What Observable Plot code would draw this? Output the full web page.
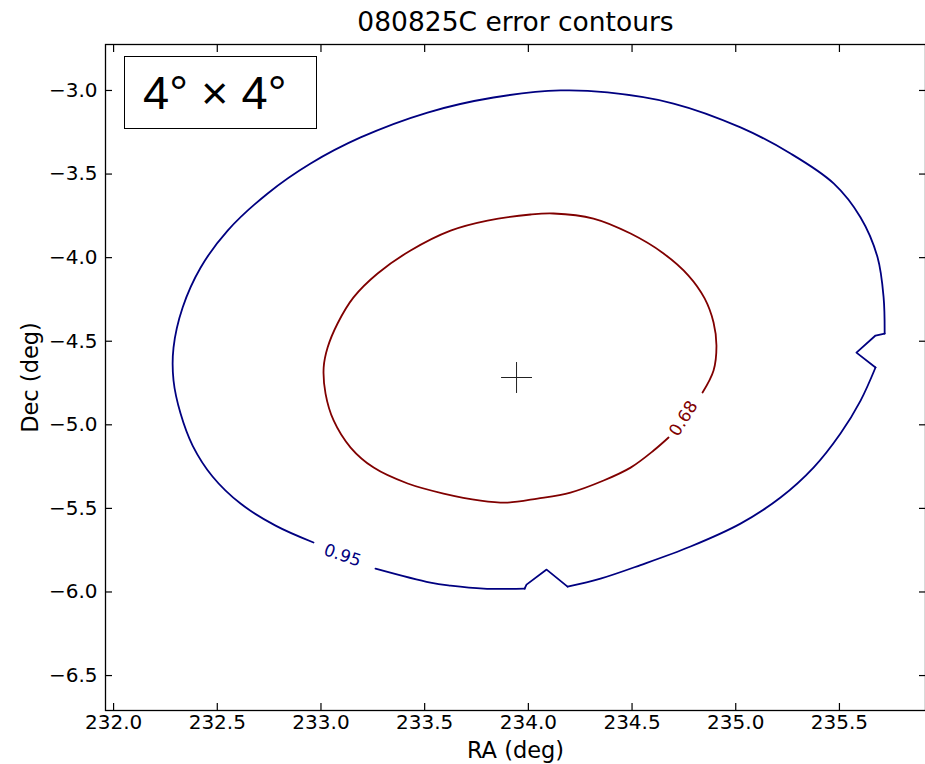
<!DOCTYPE html>
<html><head><meta charset="utf-8">
<script src="https://cdn.jsdelivr.net/npm/d3@7"></script>
<script src="https://cdn.jsdelivr.net/npm/@observablehq/plot@0.6"></script>
<style>
body{margin:0;background:#fff;}
#wrap{position:relative;width:925px;height:764px;}
#box{position:absolute;left:124px;top:56px;width:193px;height:73px;border:1px solid #000;background:#fff;
  font-family:"Liberation Sans",Arial,sans-serif;font-size:47px;line-height:71px;padding-left:18px;box-sizing:border-box;color:#000;white-space:nowrap;}
</style></head><body>
<div id="wrap"><div id="box">4° × 4°</div></div>
<script>
const title = "080825C error contours";
const xLabel = "RA (deg)";
const yLabel = "Dec (deg)";
const xTicks = [232.0, 232.5, 233.0, 233.5, 234.0, 234.5, 235.0, 235.5];
const yTicks = [-3.0, -3.5, -4.0, -4.5, -5.0, -5.5, -6.0, -6.5];
const xDomain = [231.961, 235.915];
const yDomain = [-6.709, -2.725];

// 0.95 contour (blue), ordered from the label end round to the label start
const ra95 = [233.263,233.528,233.625,233.784,233.982,233.991,234.088,234.189,234.348,234.541,234.782,235.023,235.216,235.375,235.505,235.602,235.674,235.582,235.674,235.718,235.713,235.684,235.602,235.472,235.264,235.023,234.700,234.382,234.155,233.832,233.514,233.191,232.950,232.743,232.550,232.420,232.333,232.289,232.289,232.323,232.381,232.477,232.612,232.781,232.964];
const dec95 = [-5.860,-5.944,-5.962,-5.980,-5.980,-5.956,-5.866,-5.968,-5.920,-5.839,-5.728,-5.591,-5.435,-5.256,-5.052,-4.855,-4.657,-4.568,-4.466,-4.454,-4.238,-3.999,-3.760,-3.556,-3.377,-3.221,-3.078,-3.012,-3.000,-3.042,-3.132,-3.281,-3.437,-3.616,-3.838,-4.059,-4.298,-4.538,-4.735,-4.933,-5.124,-5.309,-5.471,-5.603,-5.704];

// 0.68 contour (red)
const ra68 = [234.676,234.604,234.493,234.363,234.203,234.044,233.900,233.770,233.591,233.418,233.254,233.143,233.061,233.022,233.013,233.032,233.080,233.157,233.273,233.432,233.625,233.803,234.011,234.121,234.314,234.493,234.652,234.772,234.850,234.893,234.907,234.893,234.840];
const dec68 = [-5.076,-5.154,-5.256,-5.333,-5.405,-5.441,-5.465,-5.453,-5.411,-5.351,-5.256,-5.136,-4.974,-4.813,-4.657,-4.538,-4.394,-4.238,-4.095,-3.957,-3.838,-3.778,-3.742,-3.736,-3.766,-3.856,-3.975,-4.107,-4.244,-4.388,-4.526,-4.675,-4.807];

const centerRA = [233.943];
const centerDec = [-4.717];
const levelNames = ["0.95", "0.68"];
const levelRA = [233.104, 234.748];
const levelDec = [-5.782, -4.962];

const blue = "#000080", red = "#800000";
const c95 = ra95.map((x, i) => ({x, y: dec95[i]}));
const c68 = ra68.map((x, i) => ({x, y: dec68[i]}));
const ctr = centerRA.map((x, i) => ({x, y: centerDec[i]}));
const lab = levelNames.map((t, i) => ({t, x: levelRA[i], y: levelDec[i]}));
const fmt = d => (d < 0 ? "\u2212" : "") + Math.abs(d).toFixed(1);
const lineOpts = (stroke, curve) => ({x: "x", y: "y", stroke, strokeWidth: 1.8, curve, strokeLinejoin: "round"});

const chart = Plot.plot({
  width: 925, height: 764,
  marginLeft: 105, marginRight: 0, marginTop: 44, marginBottom: 54,
  style: {fontFamily: "DejaVu Sans, sans-serif", fontSize: "20px", color: "#000", background: "#fff", overflow: "visible"},
  x: {domain: xDomain, label: null},
  y: {domain: yDomain, label: null},
  marks: [
    // smooth stretches of the 0.95 contour, with its two sharp notches drawn straight
    Plot.line(c95.slice(0, 5), lineOpts(blue, "catmull-rom")),
    Plot.line(c95.slice(4, 8), lineOpts(blue, "linear")),
    Plot.line(c95.slice(7, 17), lineOpts(blue, "catmull-rom")),
    Plot.line(c95.slice(16, 20), lineOpts(blue, "linear")),
    Plot.line(c95.slice(19), lineOpts(blue, "catmull-rom")),
    Plot.line(c68, lineOpts(red, "catmull-rom")),
    Plot.dot(ctr, {x: "x", y: "y", symbol: "plus", r: 10, stroke: "#222", strokeWidth: 1}),
    Plot.text(lab.slice(0, 1), {x: "x", y: "y", text: "t", fill: blue, fontSize: 17, rotate: 19}),
    Plot.text(lab.slice(1, 2), {x: "x", y: "y", text: "t", fill: red, fontSize: 17, rotate: -58}),
    Plot.frame({stroke: "#000", strokeWidth: 1.3}),
    Plot.axisX(xTicks, {anchor: "bottom", tickSize: -7, tickFormat: () => "", strokeWidth: 1.2}),
    Plot.axisX(xTicks, {anchor: "top", tickSize: -7, tickFormat: () => "", strokeWidth: 1.2}),
    Plot.axisY(yTicks, {anchor: "left", tickSize: -7, tickFormat: () => "", strokeWidth: 1.2}),
    Plot.axisY(yTicks, {anchor: "right", tickSize: -7, tickFormat: () => "", strokeWidth: 1.2}),
    Plot.axisX(xTicks, {anchor: "bottom", tickSize: 0, tickPadding: 4, tickFormat: fmt, label: null}),
    Plot.axisY(yTicks, {anchor: "left", tickSize: 0, tickPadding: 8, tickFormat: fmt, label: null}),
    Plot.text([title], {frameAnchor: "top", dy: -22, lineAnchor: "middle", textAnchor: "middle", fontSize: 26.5}),
    Plot.text([xLabel], {frameAnchor: "bottom", dy: 40, lineAnchor: "middle", textAnchor: "middle", fontSize: 22.5}),
    Plot.text([yLabel], {frameAnchor: "left", dx: -75, rotate: -90, lineAnchor: "middle", textAnchor: "middle", fontSize: 22.5})
  ]
});
document.getElementById("wrap").prepend(chart);
</script>
</body></html>
